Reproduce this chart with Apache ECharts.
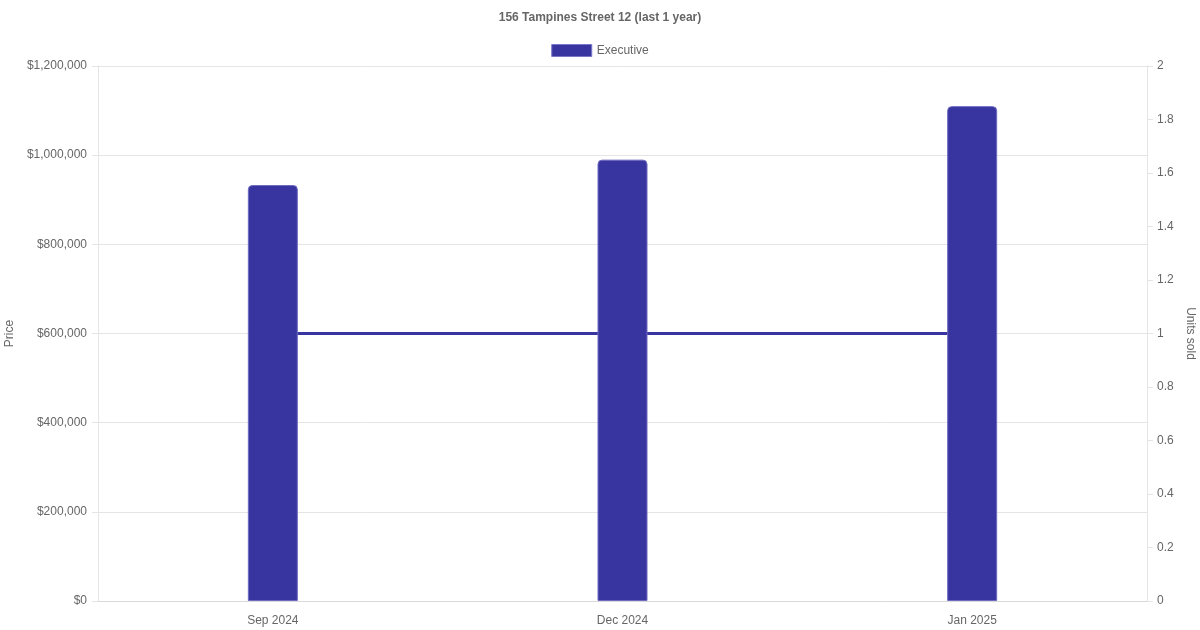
<!DOCTYPE html>
<html>
<head>
<meta charset="utf-8">
<script src="https://cdn.jsdelivr.net/npm/echarts@6/dist/echarts.min.js"></script>
<style>html,body{margin:0;padding:0;background:#fff;}#c{width:1200px;height:630px;}</style>
</head>
<body>
<div id="c"></div>
<script>
var titleText = '156 Tampines Street 12 (last 1 year)';
var categories = ['Sep 2024', 'Dec 2024', 'Jan 2025'];
var priceValues = [933000, 990000, 1110000];
var unitsSold = [1, 1, 1];
var seriesName = 'Executive';

var chart = echarts.init(document.getElementById('c'));
var font = 'Liberation Sans, Arial, Helvetica, sans-serif';
var mainColor = '#3935A0';
chart.setOption({
  animation: false,
  textStyle: { fontFamily: font },
  title: {
    text: titleText, left: 'center', top: 7,
    textStyle: { fontSize: 12, fontWeight: 'bold', color: '#666', fontFamily: font }
  },
  legend: {
    data: [seriesName], top: 39, left: 'center', icon: 'rect',
    itemWidth: 40, itemHeight: 12, itemGap: 10,
    itemStyle: { borderColor: '#7a77c8', borderWidth: 1 },
    textStyle: { fontSize: 12, color: '#666', fontFamily: font }
  },
  grid: { left: 98, right: 53, top: 66, bottom: 29, containLabel: false, outerBoundsMode: 'none' },
  xAxis: {
    type: 'category', data: categories,
    axisLine: { show: true, lineStyle: { color: '#d9d9d9' } },
    axisTick: { show: false },
    axisLabel: { color: '#666', fontSize: 12, margin: 14, fontFamily: font },
    splitLine: { show: false }
  },
  yAxis: [{
    type: 'value', min: 0, max: 1200000, interval: 200000, position: 'left',
    name: 'Price', nameLocation: 'middle', nameGap: 76,
    nameTextStyle: { color: '#666', fontSize: 12, fontFamily: font },
    axisLine: { show: true, lineStyle: { color: '#e5e5e5' } },
    axisTick: { show: true, length: 6, lineStyle: { color: '#e5e5e5' } },
    axisLabel: { color: '#666', fontSize: 12, margin: 11, fontFamily: font,
      formatter: function (v) { return '$' + v.toLocaleString('en-US'); } },
    splitLine: { show: true, lineStyle: { color: '#e5e5e5' } }
  }, {
    type: 'value', min: 0, max: 2, interval: 0.2, position: 'right',
    name: 'Units sold', nameLocation: 'middle', nameGap: 33, nameRotate: -90,
    nameTextStyle: { color: '#666', fontSize: 12, fontFamily: font },
    axisLine: { show: true, lineStyle: { color: '#e5e5e5' } },
    axisTick: { show: true, length: 6, lineStyle: { color: '#e5e5e5' } },
    axisLabel: { color: '#666', fontSize: 12, margin: 10, fontFamily: font,
      formatter: function (v) { return String(parseFloat(v.toFixed(1))); } },
    splitLine: { show: false }
  }],
  series: [{
    name: seriesName, type: 'bar', data: priceValues, yAxisIndex: 0,
    barWidth: 50, z: 3,
    itemStyle: { color: mainColor, borderColor: '#6e6bc0', borderWidth: 1, borderRadius: [4, 4, 0, 0] }
  }, {
    name: 'Units', type: 'line', data: unitsSold, yAxisIndex: 1,
    showSymbol: false, symbol: 'none', z: 2,
    lineStyle: { color: mainColor, width: 3 }
  }]
});
</script>
</body>
</html>
